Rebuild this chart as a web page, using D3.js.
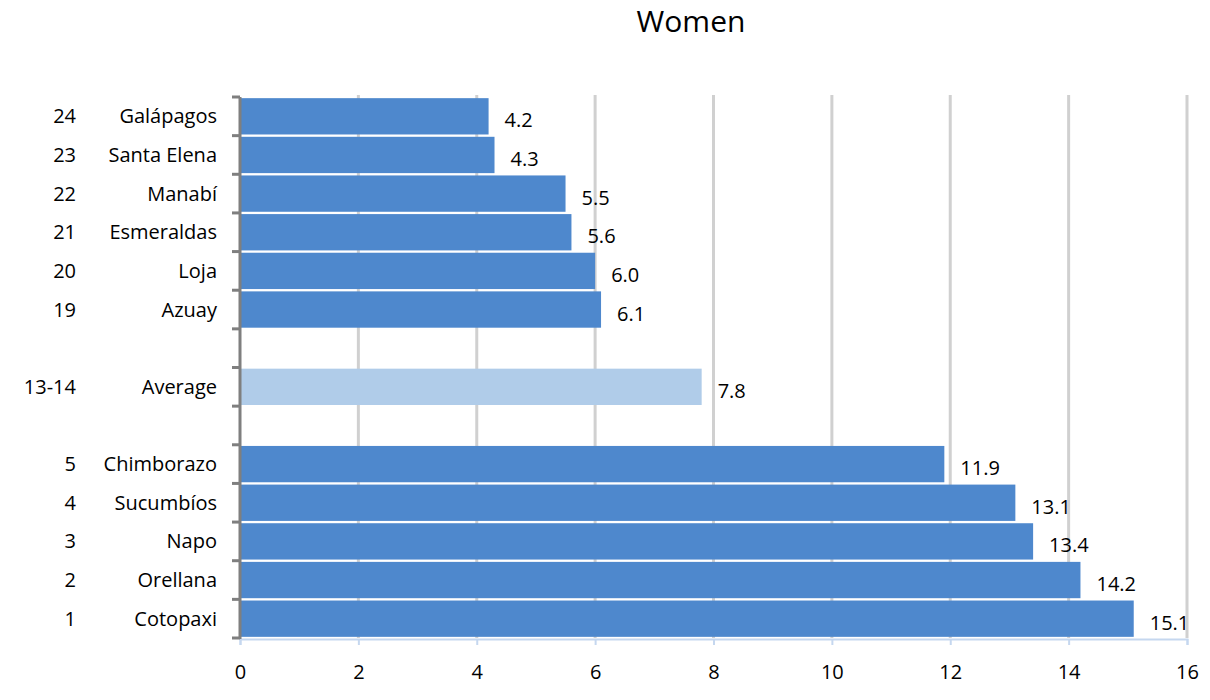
<!DOCTYPE html>
<html>
<head>
<meta charset="utf-8">
<script src="https://cdn.jsdelivr.net/npm/d3@7"></script>
<style>
  body { margin: 0; background: #fff; }
  text { font-family: "Open Sans", sans-serif; fill: #000; }
</style>
</head>
<body>
<div id="chart"></div>
<script>
// rows from top to bottom; empty strings are the blank spacer rows
const ranks = ['24', '23', '22', '21', '20', '19', '', '13-14', '', '5', '4', '3', '2', '1'];
const provinces = ['Galápagos', 'Santa Elena', 'Manabí', 'Esmeraldas', 'Loja', 'Azuay', '', 'Average', '', 'Chimborazo', 'Sucumbíos', 'Napo', 'Orellana', 'Cotopaxi'];
const values = [4.2, 4.3, 5.5, 5.6, 6.0, 6.1, null, 7.8, null, 11.9, 13.1, 13.4, 14.2, 15.1];
const xTicks = [0, 2, 4, 6, 8, 10, 12, 14, 16];

const width = 1210, height = 700;
const margin = { top: 97, right: 23, bottom: 62, left: 240 };

const svg = d3.select('#chart').append('svg')
    .attr('width', width)
    .attr('height', height);

const rows = provinces.map((p, i) => ({ key: 'r' + i, rank: ranks[i], name: p, value: values[i] }));

const x = d3.scaleLinear()
    .domain([0, 16])
    .range([margin.left, width - margin.right]);

const y = d3.scaleBand()
    .domain(rows.map(d => d.key))
    .range([margin.top, height - margin.bottom])
    .paddingInner(0.06)
    .paddingOuter(0.03);

// title
svg.append('text')
    .attr('x', 691)
    .attr('y', 32)
    .attr('text-anchor', 'middle')
    .style('font-size', '30px')
    .text('Women');

// vertical gridlines
svg.append('g')
    .selectAll('line')
    .data(xTicks.slice(1))
    .join('line')
    .attr('x1', d => x(d))
    .attr('x2', d => x(d))
    .attr('y1', margin.top - 2)
    .attr('y2', height - margin.bottom)
    .attr('stroke', '#d0d0d0')
    .attr('stroke-width', 3);

// bottom axis
const xAxis = d3.axisBottom(x).tickValues(xTicks).tickSize(6).tickPadding(20);
const xAxisG = svg.append('g')
    .attr('transform', `translate(0, ${height - margin.bottom + 1})`)
    .call(xAxis);
xAxisG.select('.domain').attr('stroke', '#c5d7ef').attr('stroke-width', 2);
xAxisG.selectAll('.tick line').attr('stroke', '#c5d7ef').attr('stroke-width', 2);
xAxisG.selectAll('.tick text').style('font-size', '20px').style('font-family', '"Open Sans", sans-serif').attr('fill', '#000');

// bars
const data = rows.filter(d => d.value !== null);
svg.append('g')
    .selectAll('rect')
    .data(data)
    .join('rect')
    .attr('x', x(0))
    .attr('y', d => y(d.key))
    .attr('width', d => x(d.value) - x(0))
    .attr('height', y.bandwidth())
    .attr('fill', d => d.name === 'Average' ? '#b0cce9' : '#4e88cd');

// value labels
svg.append('g')
    .selectAll('text')
    .data(data)
    .join('text')
    .attr('x', d => x(d.value) + 16)
    .attr('y', d => y(d.key) + y.bandwidth() / 2 + 11)
    .style('font-size', '20px')
    .text(d => d.value.toFixed(1));

// left axis with ticks at row boundaries
const bounds = rows.map(d => y(d.key) - y.step() * y.paddingInner() / 2);
bounds.push(height - margin.bottom);
bounds[0] = margin.top;
const leftG = svg.append('g');
leftG.append('line')
    .attr('x1', margin.left)
    .attr('x2', margin.left)
    .attr('y1', margin.top)
    .attr('y2', height - margin.bottom + 1)
    .attr('stroke', '#7f7f7f')
    .attr('stroke-width', 3);
leftG.selectAll('.tk')
    .data(bounds)
    .join('line')
    .attr('class', 'tk')
    .attr('x1', margin.left - 8)
    .attr('x2', margin.left)
    .attr('y1', d => d)
    .attr('y2', d => d)
    .attr('stroke', '#7f7f7f')
    .attr('stroke-width', 3);

// category labels
svg.append('g')
    .selectAll('text')
    .data(rows)
    .join('text')
    .attr('x', 217)
    .attr('y', d => y(d.key) + y.bandwidth() / 2 + 7)
    .attr('text-anchor', 'end')
    .style('font-size', '20px')
    .text(d => d.name);

// rank labels
svg.append('g')
    .selectAll('text')
    .data(rows)
    .join('text')
    .attr('x', 76)
    .attr('y', d => y(d.key) + y.bandwidth() / 2 + 7)
    .attr('text-anchor', 'end')
    .style('font-size', '20px')
    .text(d => d.rank);
</script>
</body>
</html>
